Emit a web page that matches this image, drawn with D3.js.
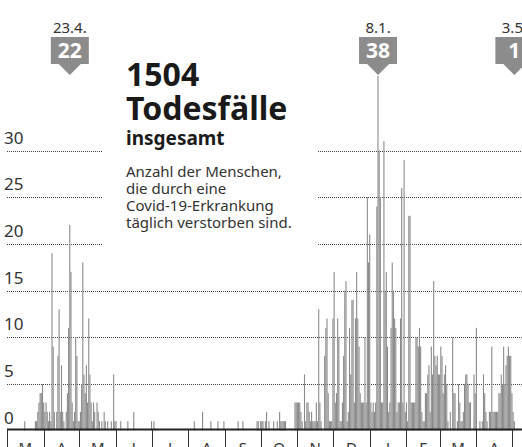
<!DOCTYPE html>
<html>
<head>
<meta charset="utf-8">
<script src="https://cdn.jsdelivr.net/npm/d3@7"></script>
<style>
    body { margin: 0; background: #fff; }
    svg { display: block; font-family: "Noto Sans", sans-serif; }
</style>
</head>
<body>
<svg width="522" height="447"></svg>
<script>
// daily deaths, one array per month, starting 1 March 2020
var mar20 = [0,0,0,0,0,0,0,0,0,0, 0,0,0,0,0,1,0,0,0,0, 0,0,0,0,1,1,2,3,4,4, 5];
var apr20 = [3,2,3,2,1,2,1,19,9,2, 0,2,8,13,2,7,2,1,0,2, 4,11,22,17,3,1,2,10,8,1];
var may20 = [1,2,5,18,6,4,7,3,12,6, 3,1,3,2,0,3,2,1,0,1, 0,2,1,0,1,0,0,1,0,6, 1];
var jun20 = [1,0,0,0,1,0,0,0,0,0, 1,0,0,0,0,2,0,0,0,0, 0,0,0,0,0,0,0,0,0,0];
var jul20 = [1,0,1,0,0,0,0,0,0,0, 0,0,0,0,0,0,0,0,0,0, 0,0,0,0,0,0,0,0,0,0, 0];
var aug20 = [0,0,0,0,0,1,0,0,0,0, 0,0,2,0,0,0,0,0,0,1, 0,0,0,0,0,1,0,0,0,0, 1];
var sep20 = [0,0,0,0,0,0,0,0,0,0, 0,1,0,0,0,1,0,0,0,0, 0,0,0,0,0,0,0,1,1,0];
var oct20 = [1,1,1,0,1,2,0,1,0,0, 0,1,0,0,1,0,2,1,1,1, 1,1,0,0,0,0,0,0,0,3, 3];
var nov20 = [3,3,3,2,1,0,6,1,3,3, 2,1,2,1,1,1,3,1,13,3, 1,0,0,8,11,12,4,1,1,1];
var dec20 = [12,17,3,4,12,10,1,1,3,8, 15,16,1,2,11,6,14,14,3,12, 17,12,9,4,3,3,3,10,3,25, 18];
var jan21 = [21,3,2,3,2,3,24,38,30,25, 3,3,31,15,17,9,2,3,11,18, 15,12,11,2,3,3,12,26,3,29, 2];
var feb21 = [3,1,23,23,3,3,3,3,10,10, 9,11,9,2,1,1,4,4,6,7, 2,9,6,16,8,7,8,6];
var mar21 = [6,9,8,4,6,7,5,1,0,2, 0,10,4,4,0,1,5,3,1,1, 2,5,6,6,5,3,3,0,0,6, 4];
var apr21 = [11,0,0,1,0,1,6,4,2,1, 0,2,2,9,2,2,2,2,2,4, 4,6,5,9,5,7,8,9,8,8];
var may21 = [4,2,1];

var monthLabels = ["M","A","M","J","J","A","S","O","N","D","J","F","M","A"];
var yTicks = [0, 5, 10, 15, 20, 25, 30];
var highlights = [
    { date: "2020-04-23", label: "23.4." },
    { date: "2021-01-08", label: "8.1." },
    { date: "2021-05-03", label: "3.5." }
];
var titleLines = ["1504", "Todesfälle"];
var subTitle = "insgesamt";
var description = ["Anzahl der Menschen,", "die durch eine", "Covid-19-Erkrankung", "täglich verstorben sind."];

var start = new Date(Date.UTC(2020, 2, 1));
var values = [].concat(mar20, apr20, may20, jun20, jul20, aug20, sep20, oct20,
    nov20, dec20, jan21, feb21, mar21, apr21, may21);
var data = values.map(function(v, i) {
    return { date: d3.utcDay.offset(start, i), value: v };
});

var svg = d3.select('svg');
var width = 522, height = 447;

var x = d3.scaleUtc()
    .domain([start, new Date(Date.UTC(2021, 4, 1))])
    .range([7, 512]);

var y = d3.scaleLinear()
    .domain([0, 30])
    .range([430.5, 150.5]);

var dayW = x(d3.utcDay.offset(start, 1)) - x(start);

// gridlines, broken where the text block sits
yTicks.filter(function(d) { return d > 0; }).forEach(function(t) {
    var segs = t >= 20 ? [[7, 103], [318, width]] : [[7, width]];
    segs.forEach(function(s) {
        svg.append("line")
            .attr("x1", s[0]).attr("x2", s[1])
            .attr("y1", Math.round(y(t)) + 0.5).attr("y2", Math.round(y(t)) + 0.5)
            .attr("stroke", "#444")
            .attr("stroke-width", 1)
            .attr("stroke-dasharray", "1,1");
    });
});

svg.append("g").selectAll("text")
    .data(yTicks)
    .enter().append("text")
    .attr("x", 4)
    .attr("y", function(d) { return y(d) - 7; })
    .attr("font-size", 17)
    .attr("fill", "#333")
    .text(function(d) { return d; });

// bars
svg.append("g").selectAll("rect")
    .data(data.filter(function(d) { return d.value > 0; }))
    .enter().append("rect")
    .attr("x", function(d) { return x(d.date) - dayW / 2; })
    .attr("y", function(d) { return y(d.value); })
    .attr("width", dayW - 0.1)
    .attr("height", function(d) { return y(0) - y(d.value); })
    .attr("fill", "#8a8a8a");

// x axis: baseline, month separators, labels
var monthStarts = d3.utcMonth.range(start, new Date(Date.UTC(2021, 4, 2)));
svg.append("line")
    .attr("x1", 7).attr("x2", width)
    .attr("y1", 429.5).attr("y2", 429.5)
    .attr("stroke", "#222")
    .attr("stroke-width", 2);

svg.append("g").selectAll("line")
    .data(monthStarts)
    .enter().append("line")
    .attr("x1", function(d) { return Math.round(x(d)) + 0.5; })
    .attr("x2", function(d) { return Math.round(x(d)) + 0.5; })
    .attr("y1", 430).attr("y2", height)
    .attr("stroke", "#333")
    .attr("stroke-width", 1);

svg.append("g").selectAll("text")
    .data(monthLabels)
    .enter().append("text")
    .attr("x", function(d, i) {
        return (x(monthStarts[i]) + x(monthStarts[i + 1])) / 2;
    })
    .attr("y", 453)
    .attr("text-anchor", "middle")
    .attr("font-size", 15)
    .attr("fill", "#333")
    .text(function(d) { return d; });

// highlighted days
var byDate = {};
data.forEach(function(d) { byDate[d3.utcFormat("%Y-%m-%d")(d.date)] = d; });

var hl = svg.append("g").selectAll("g")
    .data(highlights)
    .enter().append("g")
    .attr("transform", function(d) {
        return "translate(" + x(byDate[d.date].date) + ",0)";
    });

hl.append("text")
    .attr("y", 33)
    .attr("text-anchor", "middle")
    .attr("font-size", 15)
    .attr("fill", "#333")
    .text(function(d) { return d.label; });

hl.append("rect")
    .attr("x", -19).attr("y", 37)
    .attr("width", 38).attr("height", 27)
    .attr("fill", "#8c8c8c");

hl.append("path")
    .attr("d", "M-11,64L11,64L0,75Z")
    .attr("fill", "#8c8c8c");

hl.append("text")
    .attr("y", 58)
    .attr("text-anchor", "middle")
    .attr("font-size", 21)
    .attr("font-weight", "bold")
    .attr("fill", "#fff")
    .text(function(d) { return byDate[d.date].value; });

// title block
var tb = svg.append("g").attr("transform", "translate(126,0)");
tb.selectAll(".title")
    .data(titleLines)
    .enter().append("text")
    .attr("class", "title")
    .attr("y", function(d, i) { return 86 + i * 34; })
    .attr("font-size", 32)
    .attr("font-weight", "bold")
    .attr("fill", "#1a1a1a")
    .text(function(d) { return d; });

tb.append("text")
    .attr("y", 145)
    .attr("font-size", 19)
    .attr("font-weight", "bold")
    .attr("fill", "#1a1a1a")
    .text(subTitle);

tb.selectAll(".desc")
    .data(description)
    .enter().append("text")
    .attr("class", "desc")
    .attr("y", function(d, i) { return 177 + i * 17; })
    .attr("font-size", 15)
    .attr("fill", "#333")
    .text(function(d) { return d; });
</script>
</body>
</html>
